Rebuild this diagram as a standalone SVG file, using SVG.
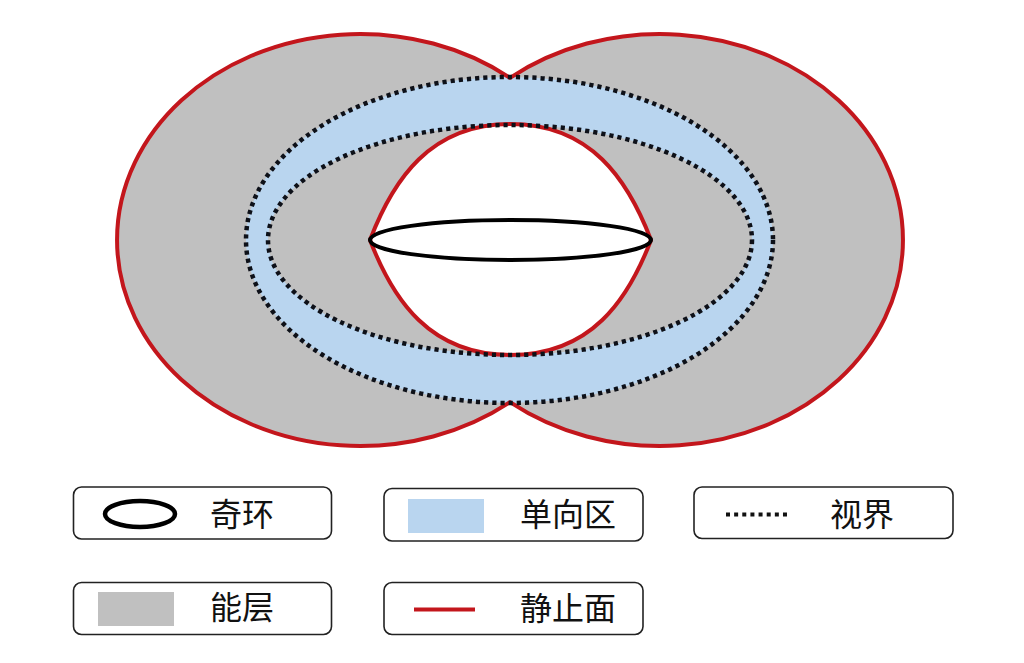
<svg xmlns="http://www.w3.org/2000/svg" width="1024" height="663" viewBox="0 0 1024 663">
<style>
.red{fill:none;stroke:#c3161c;stroke-width:4;stroke-linejoin:round}
.dot{fill:none;stroke:#0d1018;stroke-width:4.5;stroke-dasharray:4.2 4}
.ring{fill:none;stroke:#000;stroke-width:4}
.box{fill:#fff;stroke:#222;stroke-width:1.6}
.lbl{font-family:"Noto Sans CJK SC","Noto Sans",sans-serif;font-size:32px;fill:#111}
</style>
<rect width="1024" height="663" fill="#fff"/>
<g id="ergosphere">
<ellipse cx="360" cy="240" rx="243" ry="206" fill="#c0c0c0"/>
<ellipse cx="660" cy="240" rx="243" ry="206" fill="#c0c0c0"/>
</g>
<g id="one-way-region">
<path fill="#b9d5ef" fill-rule="evenodd" d="M246,240 A263.5,163 0 1 0 773,240 A263.5,163 0 1 0 246,240 Z M268,240 A242,115 0 1 0 752,240 A242,115 0 1 0 268,240 Z"/>
</g>
<g id="inner-static-surface">
<path class="red" style="fill:#fff" d="M370,240 C393,180 430,124 510.5,124 C591,124 628,180 651,240 C628,300 591,355 510.5,355 C430,355 393,300 370,240 Z"/>
</g>
<g id="outer-static-surface">
<path class="red" d="M510,77.9 A243,206 0 1 0 510,402.1 A243,206 0 1 0 510,77.9 Z"/>
</g>
<g id="horizons">
<ellipse class="dot" cx="509.5" cy="240" rx="263.5" ry="163"/>
<ellipse class="dot" cx="510" cy="240" rx="242" ry="115"/>
</g>
<g id="ring-singularity">
<ellipse class="ring" cx="510.5" cy="240" rx="140.5" ry="20"/>
</g>
<g id="legend-ring">
<rect class="box" x="73.5" y="487" width="258" height="52" rx="8"/>
<ellipse cx="140" cy="514" rx="35" ry="13" fill="none" stroke="#000" stroke-width="4.5"/>
<text class="lbl" x="210" y="526">奇环</text>
</g>
<g id="legend-oneway">
<rect class="box" x="384" y="488.5" width="259" height="52.5" rx="8"/>
<rect x="408" y="499" width="76" height="34" fill="#b9d5ef"/>
<text class="lbl" x="520" y="526">单向区</text>
</g>
<g id="legend-horizon">
<rect class="box" x="694" y="487" width="259" height="51.5" rx="8"/>
<line x1="726" y1="514.5" x2="787" y2="514.5" stroke="#111" stroke-width="4" stroke-dasharray="4 4.14"/>
<text class="lbl" x="830" y="526">视界</text>
</g>
<g id="legend-ergosphere">
<rect class="box" x="73.5" y="582.5" width="258" height="52" rx="8"/>
<rect x="98" y="592" width="76" height="34" fill="#c0c0c0"/>
<text class="lbl" x="210" y="619">能层</text>
</g>
<g id="legend-static">
<rect class="box" x="384" y="582.5" width="259" height="52" rx="8"/>
<line x1="414" y1="609.5" x2="475" y2="609.5" stroke="#c3161c" stroke-width="4"/>
<text class="lbl" x="520" y="620">静止面</text>
</g>
</svg>
